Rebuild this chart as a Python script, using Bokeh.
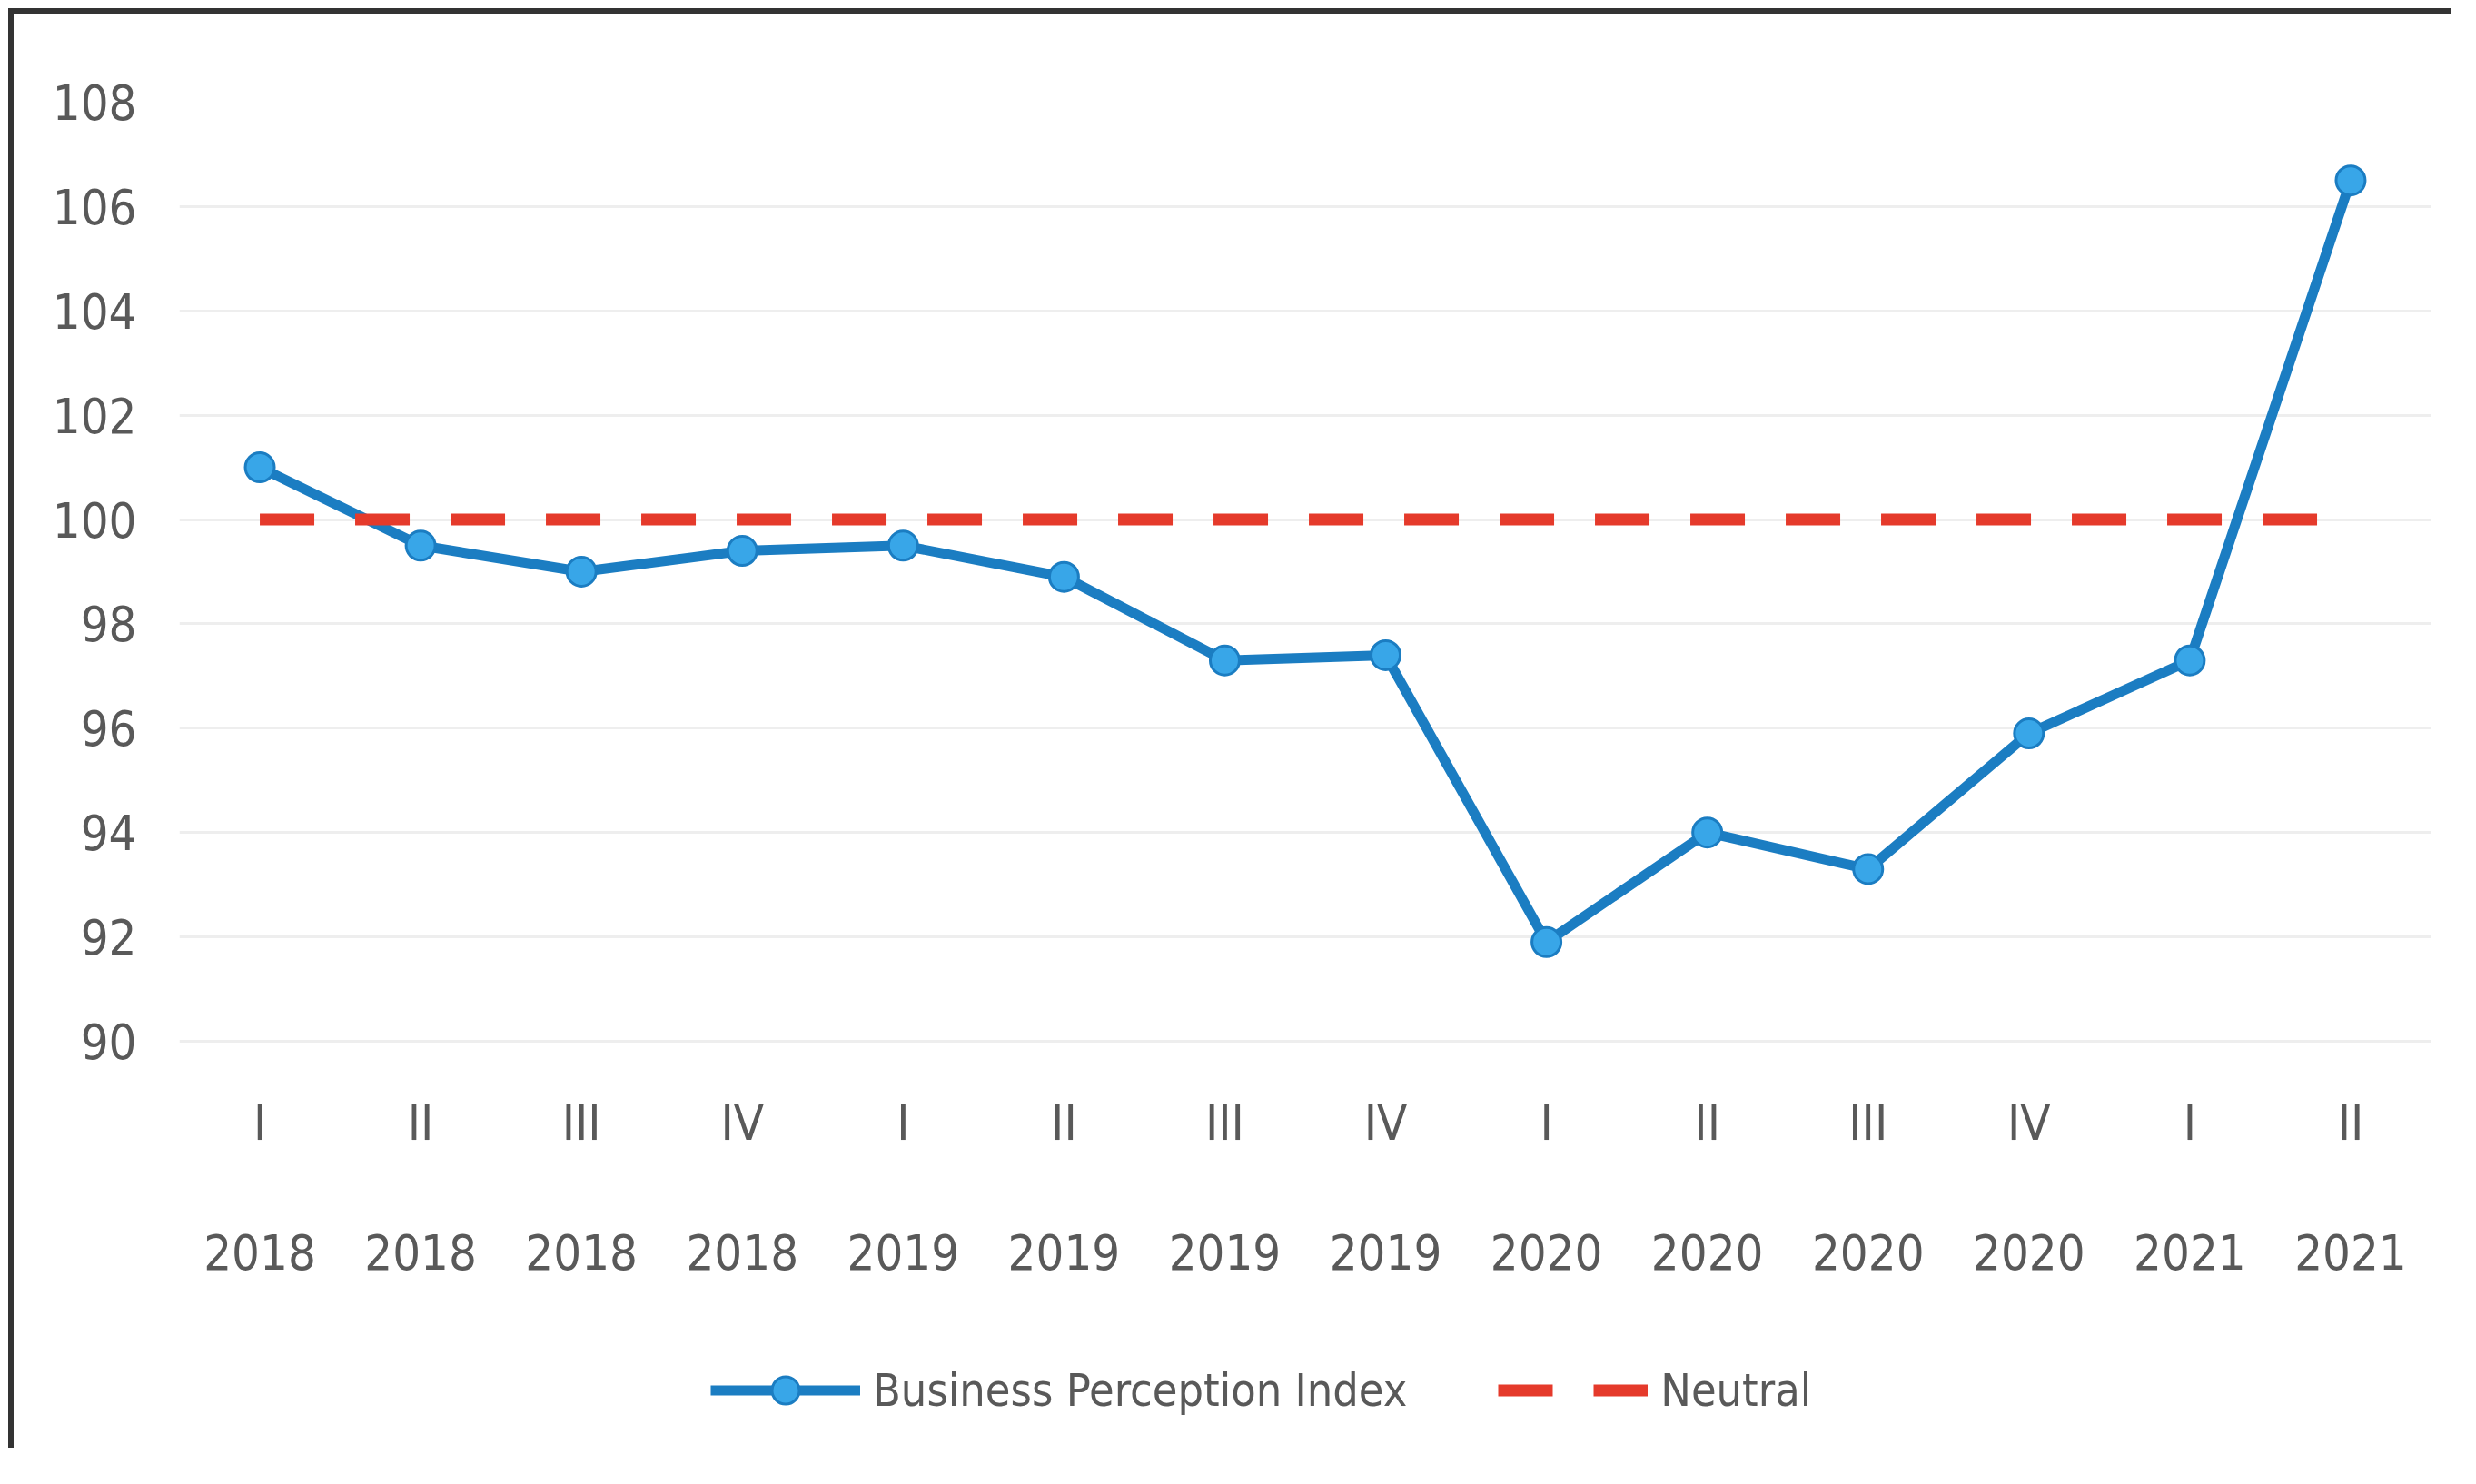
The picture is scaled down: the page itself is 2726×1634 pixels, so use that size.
from bokeh.plotting import figure
from bokeh.models import (Range1d, FixedTicker, Legend, LegendItem,
                          LabelSet, ColumnDataSource)
from bokeh.core.properties import value
from bokeh.embed import file_html
from bokeh.resources import INLINE

quarters = ["I", "II", "III", "IV", "I", "II", "III", "IV",
            "I", "II", "III", "IV", "I", "II"]
years = ["2018", "2018", "2018", "2018", "2019", "2019", "2019", "2019",
         "2020", "2020", "2020", "2020", "2021", "2021"]
bpi = [101.0, 99.5, 99.0, 99.4, 99.5, 98.9, 97.3, 97.4,
       91.9, 94.0, 93.3, 95.9, 97.3, 106.5]
neutral = [100, 100, 100, 100, 100, 100, 100, 100,
           100, 100, 100, 100, 100, 100]
y_ticks = [90, 92, 94, 96, 98, 100, 102, 104, 106, 108]
Y_MIN, Y_MAX = 90, 108

FONT = "DejaVu Sans Condensed, Roboto, sans-serif"
TXT = "#595959"
BLUE = "#1B7DC2"
BLUE_FILL = "#38A6E8"
RED = "#E53A2B"
BORDER = "6px solid #333333"

# layout (pixels): canvas size, top of frame, axis baseline (from canvas top)
W, H = 2690, 1585
MB_TOP = 97
AXIS_PX = 1131
px_per_unit = (AXIS_PX - MB_TOP) / (Y_MAX - Y_MIN)
y_start = Y_MIN - (H - AXIS_PX) / px_per_unit   # frame extends below the axis for labels/legend

# category centres on a band scale (one unit per quarter)
xs = [i + 0.5 for i in range(len(quarters))]

p = figure(x_range=Range1d(0, len(quarters)), y_range=Range1d(y_start, Y_MAX),
           width=W, height=H, output_backend="svg", toolbar_location=None,
           x_axis_location=None,
           min_border_left=182, min_border_right=29, min_border_top=MB_TOP,
           min_border_bottom=0)
p.styles = {"border-top": BORDER, "border-left": BORDER,
            "position": "relative", "left": "9px", "top": "9px"}
p.outline_line_color = None
p.background_fill_color = "white"
p.border_fill_color = "white"

bpi_line = p.line(xs, bpi, line_color=BLUE, line_width=11)
bpi_pts = p.scatter(xs, bpi, marker="circle", size=32, fill_color=BLUE_FILL,
                    line_color=BLUE, line_width=3)
neu_line = p.line(xs, neutral, line_color=RED, line_width=13, line_dash="60 45")

# grid
p.xgrid.grid_line_color = None
p.ygrid.ticker = FixedTicker(ticks=y_ticks)
p.ygrid.grid_line_color = "#EEEEEE"
p.ygrid.grid_line_width = 3

# y axis
ya = p.yaxis[0]
ya.ticker = FixedTicker(ticks=y_ticks)
ya.axis_line_color = None
ya.major_tick_line_color = None
ya.minor_tick_line_color = None
ya.major_label_standoff = 41
ya.major_label_text_font = FONT
ya.major_label_text_font_size = "54px"
ya.major_label_text_color = TXT

# category labels (two rows) hanging below the y=90 baseline
src = ColumnDataSource(dict(x=xs, q=quarters, yr=years))
for col, off in (("q", -90), ("yr", -232)):
    p.add_layout(LabelSet(x="x", y=Y_MIN, text=col, source=src, y_offset=off,
                          text_align="center", text_baseline="middle",
                          text_font=value(FONT), text_font_size="54px",
                          text_color=TXT))

legend = Legend(items=[LegendItem(label="Business Perception Index",
                                  renderers=[bpi_line, bpi_pts]),
                       LegendItem(label="Neutral", renderers=[neu_line])],
                orientation="horizontal", location=(585, 32),
                glyph_width=165, glyph_height=75, label_height=60,
                label_text_font=FONT, label_text_font_size="50px",
                label_text_color=TXT, label_standoff=14, spacing=100,
                padding=10, margin=0, border_line_color=None,
                background_fill_alpha=0)
p.add_layout(legend)

open("out.html", "w").write(file_html(p, INLINE))
